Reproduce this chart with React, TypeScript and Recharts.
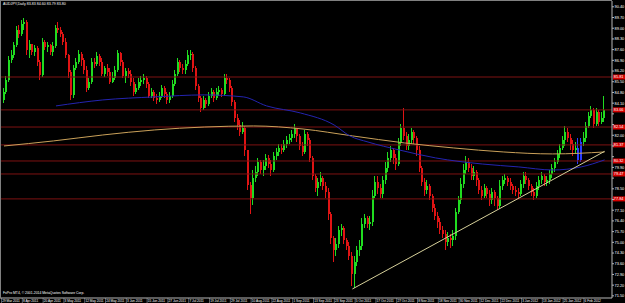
import React from 'react';
import { ComposedChart, Bar, Line, XAxis, YAxis, ReferenceLine } from 'recharts';

// AUDJPY daily, 29 Mar 2011 - mid Feb 2012
const firstOpen = 84.31;

const closes = [
  84.83, 85.62, 86.93, 87.25, 87.91, 88.89, 88.63, 89.28, 89.41, 87.58,
  87.97, 87.45, 87.71, 86.79, 85.95, 88.10, 87.78, 87.91, 87.45, 87.84,
  89.02, 88.89, 88.63, 88.10, 87.25, 86.14, 84.64, 86.40, 86.79, 87.32,
  86.93, 86.27, 85.09, 85.49, 86.79, 86.66, 87.19, 86.79, 86.01, 86.40,
  86.14, 85.49, 85.75, 86.27, 87.38, 86.79, 85.88, 86.21, 86.01, 85.49,
  84.83, 85.09, 85.49, 85.62, 85.75, 85.36, 84.57, 84.83, 84.44, 84.31,
  84.57, 85.09, 84.70, 84.31, 84.57, 85.36, 86.01, 86.79, 86.40, 86.27,
  86.66, 87.25, 87.32, 86.40, 85.23, 84.44, 83.79, 84.31, 84.05, 84.57,
  84.83, 84.44, 84.83, 84.96, 84.70, 85.75, 85.62, 85.09, 84.18, 83.13,
  82.67, 82.22, 82.48, 81.04, 78.75, 77.90, 79.21, 79.60, 80.26, 79.73,
  79.99, 80.52, 80.12, 79.73, 80.65, 80.91, 81.17, 81.04, 81.43, 81.69,
  81.82, 82.09, 82.48, 81.96, 81.30, 80.91, 82.09, 81.69, 80.52, 79.34,
  78.55, 78.95, 79.21, 78.69, 78.29, 76.85, 75.29, 74.50, 74.89, 75.81,
  75.94, 75.15, 74.76, 74.11, 72.93, 73.72, 74.50, 74.76, 76.20, 76.59,
  76.20, 76.33, 78.03, 78.95, 78.55, 78.16, 79.08, 79.86, 80.52, 81.04,
  80.52, 80.12, 81.56, 82.48, 81.96, 81.30, 81.69, 82.22, 81.82, 81.04,
  79.86, 78.95, 78.42, 78.69, 78.03, 77.25, 76.72, 76.33, 75.81, 75.55,
  75.02, 75.29, 75.15, 75.42, 76.99, 77.77, 78.82, 79.73, 80.26, 79.86,
  79.34, 79.60, 79.08, 78.42, 78.03, 78.55, 78.16, 77.77, 78.29, 77.90,
  77.38, 78.69, 79.08, 79.21, 78.95, 78.69, 78.42, 78.29, 78.16, 78.82,
  79.34, 79.08, 78.69, 78.29, 78.03, 78.69, 79.08, 79.34, 78.95, 79.08,
  79.47, 79.86, 80.26, 80.78, 81.17, 81.69, 82.22, 81.82, 81.43, 81.04,
  81.17, 80.39, 81.56, 81.82, 82.61, 83.26, 83.66, 82.74, 83.52, 82.87,
  83.13, 83.66,
];

const highs = [
  85.09, 85.88, 87.19, 87.58, 88.10, 89.15, 89.21, 89.54, 89.67, 89.54,
  88.23, 87.97, 87.91, 87.84, 86.93, 88.36, 88.23, 88.10, 87.97, 88.10,
  89.21, 89.41, 89.08, 88.76, 88.36, 87.32, 86.27, 86.60, 87.06, 87.58,
  87.45, 87.06, 86.53, 85.75, 87.06, 87.06, 87.45, 87.32, 87.06, 86.53,
  86.66, 86.40, 86.14, 86.53, 87.58, 87.45, 86.93, 86.40, 86.40, 86.27,
  85.75, 85.36, 85.75, 85.88, 86.01, 85.88, 85.49, 85.09, 84.96, 84.70,
  84.83, 85.29, 85.23, 84.83, 84.83, 85.62, 86.27, 87.06, 86.93, 86.66,
  86.93, 87.58, 87.58, 87.45, 86.53, 85.36, 84.57, 84.57, 84.44, 84.83,
  85.09, 84.96, 85.09, 85.23, 85.09, 86.01, 86.01, 85.75, 85.23, 84.31,
  83.39, 83.00, 82.87, 82.61, 81.04, 78.95, 79.73, 79.99, 80.52, 80.39,
  80.39, 80.78, 80.71, 80.39, 80.91, 81.17, 81.43, 81.43, 81.69, 81.96,
  82.09, 82.35, 82.74, 82.48, 82.09, 81.56, 82.35, 82.22, 81.82, 80.65,
  79.47, 79.21, 79.60, 79.34, 78.95, 78.55, 76.99, 75.42, 75.29, 76.07,
  76.20, 76.07, 75.29, 75.02, 74.37, 74.11, 74.76, 75.15, 76.59, 76.85,
  76.72, 76.72, 78.42, 79.34, 79.34, 78.82, 79.34, 80.26, 80.91, 81.30,
  81.17, 80.78, 81.82, 82.74, 83.79, 82.22, 82.09, 82.48, 82.35, 81.96,
  81.30, 79.99, 79.21, 79.08, 78.82, 78.16, 77.51, 76.99, 76.59, 76.07,
  75.81, 75.68, 75.55, 75.81, 77.25, 78.03, 79.21, 80.12, 80.65, 80.52,
  80.12, 79.99, 79.73, 79.21, 78.69, 78.82, 78.69, 78.42, 78.55, 78.42,
  78.03, 79.08, 79.34, 79.47, 79.34, 79.21, 78.82, 78.69, 78.55, 79.08,
  79.60, 79.60, 79.21, 78.82, 78.55, 78.95, 79.34, 79.60, 79.47, 79.34,
  79.73, 80.12, 80.52, 81.04, 81.43, 81.96, 82.61, 82.48, 82.09, 81.69,
  81.56, 81.82, 81.82, 82.22, 82.87, 83.52, 83.92, 83.79, 83.79, 83.66,
  83.52, 84.57,
];

const lows = [
  84.11, 84.70, 85.49, 86.73, 87.06, 87.78, 88.36, 88.50, 88.89, 87.25,
  87.06, 87.25, 87.19, 86.53, 85.62, 85.81, 87.58, 87.45, 87.25, 87.19,
  87.71, 88.69, 88.43, 87.91, 87.06, 85.75, 84.31, 84.44, 86.27, 86.66,
  86.53, 86.01, 84.83, 84.96, 85.36, 86.40, 86.53, 86.53, 85.88, 85.81,
  85.88, 85.36, 85.42, 85.62, 86.14, 86.53, 85.75, 85.42, 85.75, 85.23,
  84.57, 84.70, 84.96, 85.23, 85.36, 85.09, 84.44, 84.44, 84.24, 84.05,
  84.18, 84.44, 84.44, 84.05, 84.11, 84.44, 85.23, 85.88, 86.14, 86.01,
  86.01, 86.53, 86.93, 86.14, 84.96, 84.18, 83.52, 83.66, 83.79, 83.92,
  84.44, 84.18, 84.31, 84.57, 84.51, 84.57, 85.36, 84.83, 83.92, 82.87,
  82.35, 81.96, 82.09, 80.65, 78.42, 76.85, 77.44, 78.95, 79.34, 79.47,
  79.34, 79.73, 79.86, 79.34, 79.60, 80.39, 80.65, 80.78, 80.91, 81.17,
  81.43, 81.56, 81.82, 81.56, 81.04, 80.65, 80.78, 81.30, 80.26, 79.08,
  78.29, 78.03, 78.69, 78.42, 77.90, 76.46, 74.89, 73.72, 74.11, 74.63,
  75.42, 74.89, 74.50, 73.85, 72.15, 72.02, 73.45, 74.11, 74.50, 75.94,
  75.94, 75.81, 76.07, 77.90, 78.16, 77.90, 77.90, 78.82, 79.60, 80.26,
  80.12, 79.73, 79.99, 81.30, 81.69, 81.04, 81.04, 81.43, 81.43, 80.65,
  79.60, 78.69, 78.03, 78.16, 77.77, 76.99, 76.46, 75.94, 75.55, 75.29,
  74.50, 74.76, 74.63, 74.76, 75.15, 76.85, 77.51, 78.55, 79.47, 79.60,
  79.08, 79.08, 78.69, 78.16, 77.77, 77.90, 77.90, 77.38, 77.51, 77.38,
  77.12, 77.25, 78.42, 78.82, 78.69, 78.42, 78.16, 78.03, 77.90, 78.03,
  78.55, 78.82, 78.42, 78.03, 77.77, 77.90, 78.42, 78.82, 78.69, 78.69,
  78.82, 79.21, 79.60, 80.12, 80.52, 81.04, 81.30, 81.56, 81.04, 80.65,
  80.78, 80.12, 80.26, 81.30, 81.56, 82.48, 83.13, 82.48, 82.61, 82.61,
  82.74, 82.87,
];

// bars painted blue by the indicator
const blueBars = [221, 222];

// moving averages, read at a few bars
const slowMaIdx = [0, 19, 38, 58, 77, 96, 115, 134, 154, 173, 192, 211, 231];
const slowMaVal = [81.30, 81.63, 82.02, 82.35, 82.54, 82.61, 82.41, 81.96, 81.50, 81.17, 80.91, 80.78, 80.91];
const fastMaIdx = [20, 38, 58, 77, 92, 101, 114, 127, 133, 140, 152, 166, 184, 198, 211, 222, 231];
const fastMaVal = [83.92, 84.31, 84.51, 84.64, 84.51, 83.92, 83.46, 82.67, 81.96, 81.56, 81.04, 80.52, 80.12, 79.93, 79.73, 79.93, 80.39];

// support / resistance levels
const levels = [85.81, 83.66, 82.54, 81.37, 80.32, 79.47, 77.84];

// trendline anchors [bar, price]
const trendFrom = [134, 71.95];
const trendTo = [231, 80.95];

const priceTicks = [
  71.50, 72.20, 72.90, 73.60, 74.30, 75.00, 75.70, 76.40, 77.10, 77.80,
  78.50, 79.20, 79.90, 80.60, 81.30, 82.00, 82.70, 83.40, 84.10, 84.80,
  85.50, 86.20, 86.90, 87.60, 88.30, 89.00, 89.70, 90.40,
];

// one label every 8 bars
const dateLabels = [
  '29 Mar 2011', '8 Apr 2011', '20 Apr 2011', '3 May 2011', '12 May 2011', '24 May 2011',
  '3 Jun 2011', '15 Jun 2011', '27 Jun 2011', '7 Jul 2011', '19 Jul 2011', '29 Jul 2011',
  '10 Aug 2011', '22 Aug 2011', '1 Sep 2011', '13 Sep 2011', '23 Sep 2011', '5 Oct 2011',
  '17 Oct 2011', '27 Oct 2011', '8 Nov 2011', '18 Nov 2011', '30 Nov 2011', '12 Dec 2011',
  '22 Dec 2011', '3 Jan 2012', '13 Jan 2012', '25 Jan 2012', '6 Feb 2012',
];

const FONT = '"Liberation Sans", Arial, sans-serif';
const UP = '#20dc20';
const DOWN = '#e01414';
const BLUE_BAR = '#2a3cff';
const LEVEL = '#7e1212';
const AXIS = '#b8b8b8';

const rows = closes.map((c, i) => ({
  i,
  o: i === 0 ? firstOpen : closes[i - 1],
  c,
  h: highs[i],
  l: lows[i],
  range: [lows[i], highs[i]],
  slow: slowMaIdx.includes(i) ? slowMaVal[slowMaIdx.indexOf(i)] : null,
  fast: fastMaIdx.includes(i) ? fastMaVal[fastMaIdx.indexOf(i)] : null,
}));

const Candle = (props: any) => {
  const { x, y, width, height, payload } = props;
  if (!payload || height == null) return null;
  const { o, c, h, l, i } = payload;
  const color = blueBars.includes(i) ? BLUE_BAR : c >= o ? UP : DOWN;
  const k = height / (h - l);
  const left = Math.round(x + width / 2 - 1);
  const top = y + (h - Math.max(o, c)) * k;
  const bot = y + (h - Math.min(o, c)) * k;
  return (
    <g shapeRendering="crispEdges">
      <line x1={left + 0.5} x2={left + 0.5} y1={y} y2={y + height} stroke={color} strokeWidth={1} />
      <rect x={left} y={top} width={2} height={Math.max(1, bot - top)} fill={color} />
    </g>
  );
};

const DateTick = (props: any) => {
  const { x, payload } = props;
  const label = dateLabels[payload.value / 8];
  if (!label) return null;
  return (
    <g>
      <line x1={x - 2.5} x2={x - 2.5} y1={298} y2={303} stroke={AXIS} strokeWidth={0.5} />
      <text x={x - 1.8} y={302.2} fontSize={3.2} fill="#fff" fontFamily={FONT}>
        {label}
      </text>
    </g>
  );
};

const PriceTick = (props: any) => {
  const { y, payload } = props;
  if (levels.some((v) => Math.abs(v - payload.value) < 0.3)) return null;
  return (
    <text x={614.5} y={y + 1.4} fontSize={3.9} fill="#fff" fontFamily={FONT}>
      {payload.value.toFixed(2)}
    </text>
  );
};

const LevelTag = (props: any) => {
  const { viewBox, price } = props;
  if (!viewBox) return null;
  const x = viewBox.x + viewBox.width;
  const y = viewBox.y;
  return (
    <g>
      <rect x={x + 1} y={y - 2.5} width={12} height={5} fill="#d40000" />
      <text x={x + 1.8} y={y + 1.4} fontSize={3.9} fill="#fff" fontFamily={FONT}>
        {price.toFixed(2)}
      </text>
    </g>
  );
};

export default function App() {
  return (
    <div style={{ position: 'absolute', left: 0, top: 0, width: 625, height: 303, background: '#000', overflow: 'hidden' }}>
      <ComposedChart width={625} height={303} data={rows} margin={{ top: 1, right: 0, bottom: 0, left: 0 }}>
        <XAxis
          dataKey="i"
          type="category"
          interval={7}
          height={5}
          padding={{ left: 2.7, right: 6.1 }}
          axisLine={{ stroke: AXIS }}
          tickLine={false}
          tick={<DateTick />}
        />
        <YAxis
          orientation="right"
          width={13}
          type="number"
          domain={[71.36, 90.78]}
          ticks={priceTicks}
          interval={0}
          allowDataOverflow
          axisLine={{ stroke: AXIS }}
          tickLine={{ stroke: AXIS }}
          tickSize={2}
          tickMargin={0.5}
          tick={<PriceTick />}
        />
        {levels.map((v) => (
          <ReferenceLine key={v} y={v} stroke={LEVEL} strokeWidth={1} label={<LevelTag price={v} />} />
        ))}
        <Line dataKey="slow" type="monotone" connectNulls dot={false} stroke="#caa15a" strokeWidth={1} isAnimationActive={false} />
        <Line dataKey="fast" type="monotone" connectNulls dot={false} stroke="#2424b0" strokeWidth={1} isAnimationActive={false} />
        <ReferenceLine
          segment={[
            { x: trendFrom[0], y: trendFrom[1] },
            { x: trendTo[0], y: trendTo[1] },
          ]}
          stroke="#d6d09a"
          strokeWidth={1}
        />
        <Bar dataKey="range" barSize={2} shape={<Candle />} isAnimationActive={false} />
      </ComposedChart>
      <svg width={625} height={303} style={{ position: 'absolute', left: 0, top: 0, pointerEvents: 'none' }}>
        <line x1={0} x2={612} y1={0.5} y2={0.5} stroke="#808080" strokeWidth={1} />
        <line x1={0.5} x2={0.5} y1={0} y2={298} stroke="#808080" strokeWidth={1} />
        <text x={3} y={5} fontSize={3.6} fill="#fff" fontFamily={FONT}>
          AUDJPY,Daily  83.83 84.60 83.79 83.80
        </text>
        <text x={3} y={294} fontSize={3.4} fill="#fff" fontFamily={FONT}>
          FxPro MT4, © 2001-2014 MetaQuotes Software Corp.
        </text>
      </svg>
    </div>
  );
}
